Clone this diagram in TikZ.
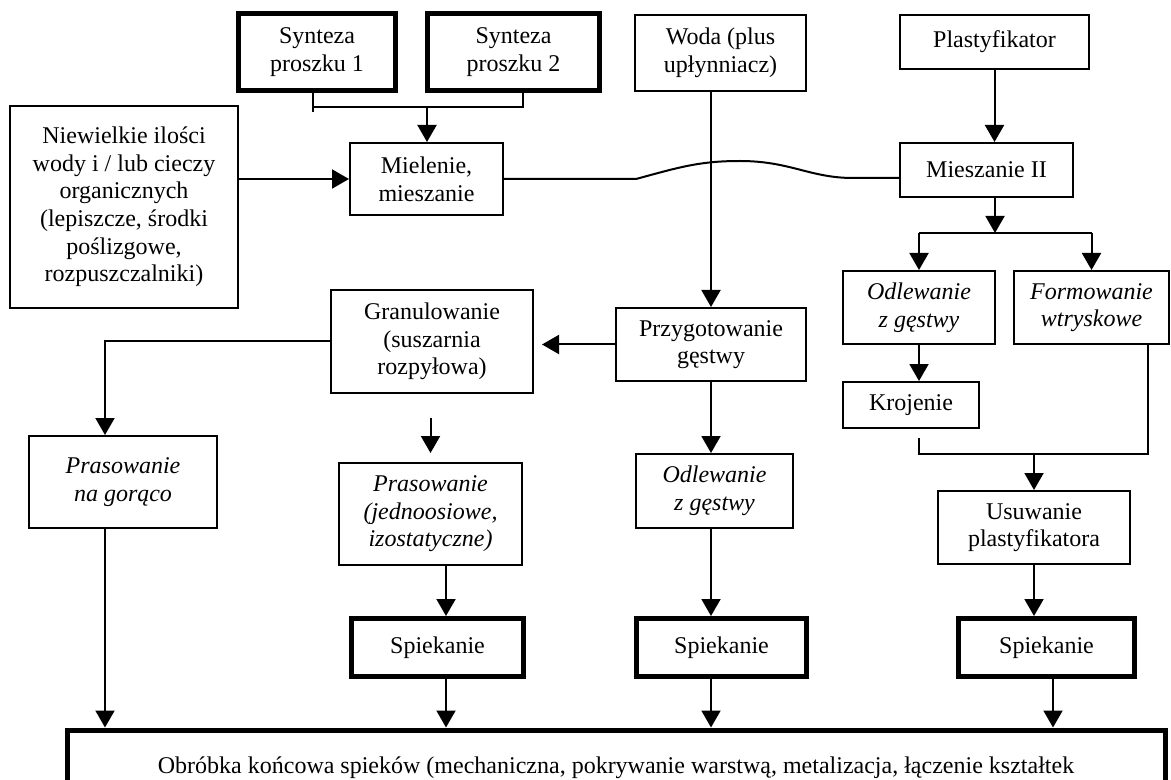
\documentclass[tikz,border=0pt]{standalone}
\usepackage{fontspec}
\setmainfont{Liberation Serif}
\usetikzlibrary{arrows.meta,calc}

\newcommand\napis{\fontsize{12}{13.8}\selectfont}

\tikzset{
    box/.style={draw, align=center, inner sep=0pt},
    thickbox/.style={box, line width=2.5pt},
    it/.style={font=\napis\itshape},
    sz/.style 2 args={minimum width=#1*0.5pt, minimum height=#2*0.5pt}
}

\begin{document}
\begin{tikzpicture}[x=0.5pt, y=-0.5pt, line width=1pt, font=\napis,
    >={Triangle[length=8.5pt,width=9.5pt]}]
    \useasboundingbox (0,0) rectangle (1171,780);

    % top row
    \node[thickbox, sz={157}{77}] (syn1) at (317,52) {Synteza\\proszku 1};
    \node[thickbox, sz={172}{77}] (syn2) at (513.5,52) {Synteza\\proszku 2};
    \node[box, sz={171}{76}] (woda) at (720.5,53) {Woda (plus\\upłynniacz)};
    \node[box, sz={189}{54}] (plast) at (994.5,42) {Plastyfikator};

    \node[box, sz={228}{202}] (dod) at (124,207)
        {Niewielkie ilości\\wody i / lub cieczy\\organicznych\\(lepiszcze, środki\\poślizgowe,\\rozpuszczalniki)};
    \node[box, sz={153}{72}] (miel) at (426.5,179) {Mielenie,\\mieszanie};
    \node[box, sz={173}{54}] (mies) at (986.5,170) {Mieszanie II};

    % middle
    \node[box, sz={202}{103}] (gran) at (432,341.5) {Granulowanie\\(suszarnia\\rozpyłowa)};
    \node[box, sz={190}{73}] (gest) at (711,344.5) {Przygotowanie\\gęstwy};
    \node[box, it, sz={152}{73}] (odlB) at (919,307.5) {Odlewanie\\z gęstwy};
    \node[box, it, sz={155}{73}] (form) at (1091.5,307.5) {Formowanie\\wtryskowe};
    \node[box, sz={136}{46}] (kroj) at (911,405) {Krojenie};
    \node[box, sz={192}{73}] (usuw) at (1034,527.5) {Usuwanie\\plastyfikatora};

    \node[box, it, sz={188}{92}] (goraco) at (123,482) {Prasowanie\\na gorąco};
    \node[box, it, sz={183}{102}] (pras) at (430.5,514) {Prasowanie\\(jednoosiowe,\\izostatyczne)};
    \node[box, it, sz={157}{74}] (odlA) at (714.5,491) {Odlewanie\\z gęstwy};

    % sintering and finishing
    \node[thickbox, sz={172}{58}] (spiek1) at (437.5,647.5) {Spiekanie};
    \node[thickbox, sz={170}{58}] (spiek2) at (721.5,647.5) {Spiekanie};
    \node[thickbox, sz={176}{58}] (spiek3) at (1046.5,647.5) {Spiekanie};
    \node[thickbox, sz={1098}{76}] (obr) at (616,768)
        {Obróbka końcowa spieków (mechaniczna, pokrywanie warstwą, metalizacja, łączenie kształtek};

    % columns of the vertical lines
    \coordinate (kA) at (105,0);
    \coordinate (kB) at (446,0);
    \coordinate (kC) at (711,0);
    \coordinate (kD) at (1053,0);

    % powders -> milling
    \coordinate (s1) at (313,107);
    \coordinate (s2) at (523,107);
    \coordinate (zb) at (427,107);
    \draw (s1 |- syn1.south) -- ++(0,19);
    \draw (s1) -- (s2) -- (s2 |- syn2.south);
    \draw[->] (zb) -- (zb |- miel.north);
    \draw[->] (dod.east |- miel) -- (miel.west);

    % wavy link to Mieszanie II
    \coordinate (f1) at (636,179);
    \coordinate (f2) at (853,178);
    \draw (miel.east) -- (f1) .. controls (680,167) and (700,161) .. (740,161)
        .. controls (790,161) and (810,178) .. (f2) -- (f2 -| mies.west);

    \draw[->] (kC |- woda.south) -- (kC |- gest.north);
    \draw[->] (plast.south) -- (plast.south |- mies.north);

    % plasticizer branch
    \coordinate (rz) at (995,233);
    \draw[->] (rz |- mies.south) -- (rz);
    \draw (odlB.north |- rz) -- (form.north |- rz);
    \draw[->] (odlB.north |- rz) -- (odlB.north);
    \draw[->] (form.north |- rz) -- (form.north);
    \draw[->] (odlB.south) -- (odlB.south |- kroj.north);
    \coordinate (zl) at (1034,454);
    \coordinate (fw) at (1148,454);
    \draw ($(odlB.south |- kroj.south)+(0,9)$) |- (fw) -- (fw |- form.south);
    \draw[->] (zl) -- (usuw.north);
    \draw[->] (usuw.south) -- (usuw.south |- spiek3.north);

    % granulate and slip
    \draw[->] (gran.west) -| (kA |- goraco.north);
    \draw[->, shorten >=4pt] (gest.west) -- (gest.west -| gran.east);
    \draw[->, shorten <=12pt, shorten >=4.5pt] (pras.north |- gran.south) -- (pras.north);
    \draw[->] (kC |- gest.south) -- (kC |- odlA.north);

    % down to sintering and finishing
    \draw[->] (kB |- pras.south) -- (kB |- spiek1.north);
    \draw[->] (kC |- odlA.south) -- (kC |- spiek2.north);
    \draw[->] (kA |- goraco.south) -- (kA |- obr.north);
    \draw[->] (kB |- spiek1.south) -- (kB |- obr.north);
    \draw[->] (kC |- spiek2.south) -- (kC |- obr.north);
    \draw[->] (kD |- spiek3.south) -- (kD |- obr.north);
\end{tikzpicture}
\end{document}
